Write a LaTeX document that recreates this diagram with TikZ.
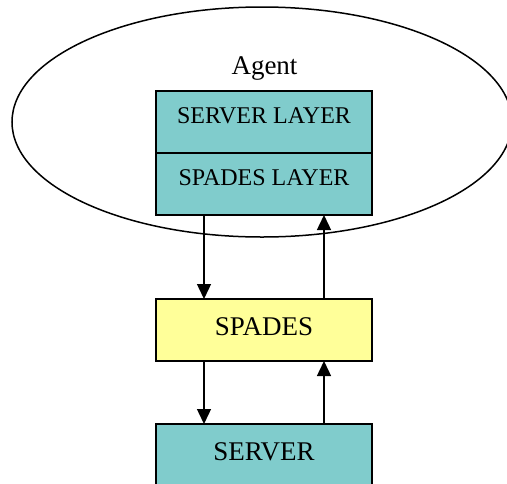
\documentclass[tikz,border=0pt]{standalone}
\usepackage{fontspec}
\setmainfont{Liberation Serif}
\usetikzlibrary{arrows.meta,shapes.geometric}
\definecolor{tealbox}{RGB}{128,204,204}
\definecolor{yellowbox}{RGB}{255,255,153}
\tikzset{
  box/.style={draw=black, line width=1.5pt, minimum width=216pt, minimum height=62pt, inner sep=0pt, outer sep=0pt, anchor=north},
  small/.style={font=\fontsize{24}{28}\selectfont, text depth=12pt},
  big/.style={font=\fontsize{27}{31}\selectfont, text depth=7pt},
  link/.style={draw=black, line width=1.4pt, -{Triangle[length=15pt,width=14pt]}}
}
\begin{document}
\begin{tikzpicture}[x=1pt,y=-1pt]
\clip (0,0) rectangle (507,483);
\node[draw=black, line width=1.5pt, ellipse, minimum width=500pt, minimum height=230pt, inner sep=0pt] (agentell) at (262,122) {};
\node[anchor=base, font=\fontsize{27}{31}\selectfont, inner sep=0pt] (agent) at (264.5,74) {Agent};
\node[box, small, fill=tealbox] (serverlayer) at (264,91) {SERVER LAYER};
\node[box, small, fill=tealbox] (spadeslayer) at (264,153) {SPADES LAYER};
\node[box, big, fill=yellowbox] (spades) at (264,299) {SPADES};
\node[box, big, fill=tealbox] (server) at (264,424) {SERVER};
\draw[link] ([xshift=-60pt]spadeslayer.south) -- ([xshift=-60pt]spades.north);
\draw[link] ([xshift=60pt]spades.north) -- ([xshift=60pt]spadeslayer.south);
\draw[link] ([xshift=-60pt]spades.south) -- ([xshift=-60pt]server.north);
\draw[link] ([xshift=60pt]server.north) -- ([xshift=60pt]spades.south);
\end{tikzpicture}
\end{document}
